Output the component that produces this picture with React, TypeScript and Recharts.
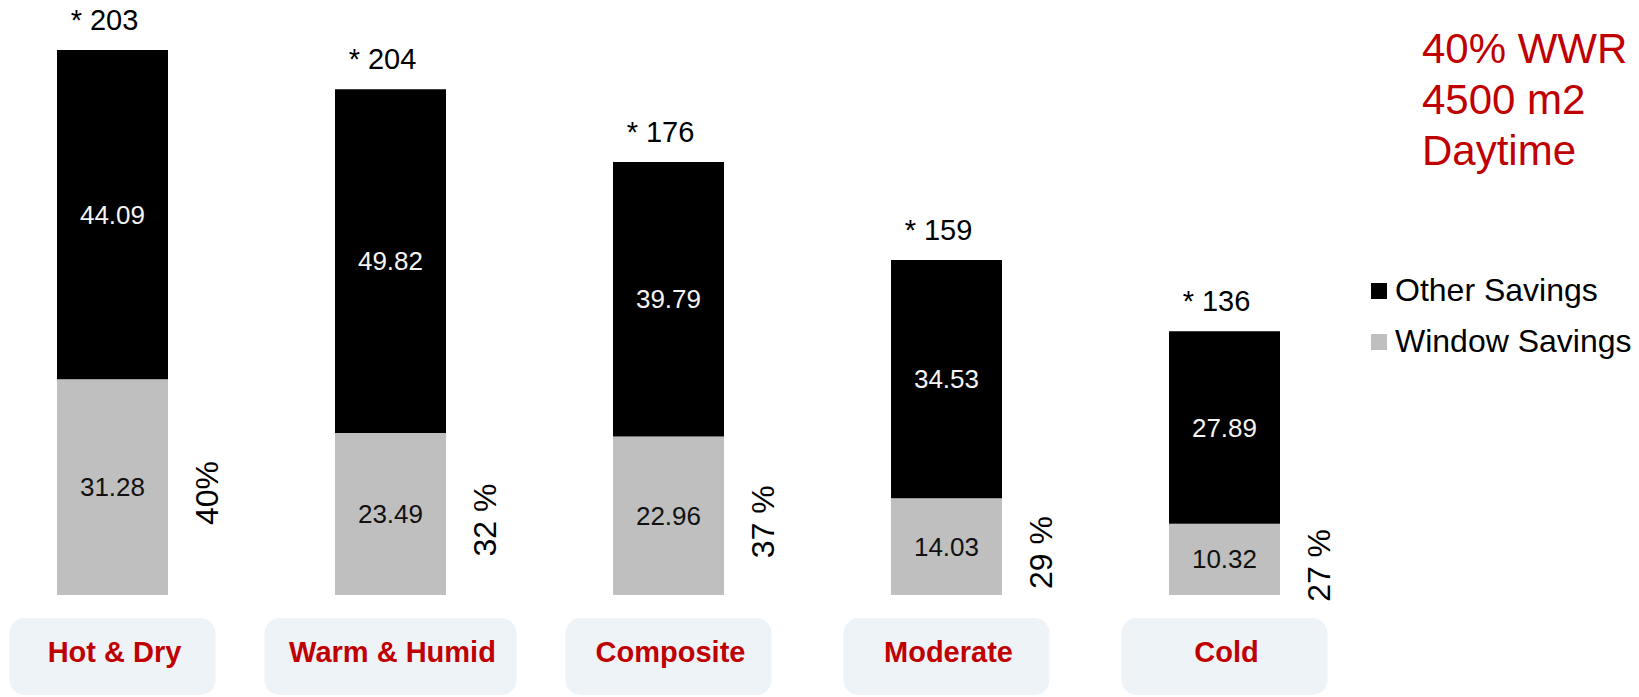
import { BarChart, Bar, XAxis, YAxis, LabelList } from 'recharts'

const zones = ['Hot & Dry', 'Warm & Humid', 'Composite', 'Moderate', 'Cold']
const windowSavings = [31.28, 23.49, 22.96, 14.03, 10.32]
// bar lengths as drawn; the Hot & Dry black segment is drawn taller than its 44.09 label
const otherSavings = [47.7, 49.82, 39.79, 34.53, 27.89]
const otherLabels = ['44.09', '49.82', '39.79', '34.53', '27.89']
const totals = [203, 204, 176, 159, 136]
const windowShare = ['40%', '32 %', '37 %', '29 %', '27 %']
const notes = ['40% WWR', '4500 m2', 'Daytime']

const data = zones.map((zone, i) => ({
  zone,
  window: windowSavings[i],
  other: otherSavings[i],
  otherLabel: otherLabels[i],
  total: '* ' + totals[i],
  share: windowShare[i],
}))

const FONT = '"Liberation Sans", Arial, Helvetica, sans-serif'
const RED = '#c00000'

function CenterText(p: any, fill: string) {
  const x = Number(p.x) + Number(p.width) / 2
  const y = Number(p.y) + Number(p.height) / 2
  return (
    <text x={x} y={y} fill={fill} fontSize={26} fontFamily={FONT} textAnchor="middle" dominantBaseline="central">
      {p.value}
    </text>
  )
}

function TotalText(p: any) {
  const x = Number(p.x) + Number(p.width) / 2 - 8
  const y = Number(p.y) - 20
  return (
    <text x={x} y={y} fill="#000" fontSize={29} fontFamily={FONT} textAnchor="middle">
      {p.value}
    </text>
  )
}

function ShareText(p: any) {
  const x = Number(p.x) + Number(p.width) / 2 + 95
  const y = Number(p.y) + Number(p.height) / 2 + 6
  return (
    <text
      x={x}
      y={y}
      fill="#000"
      fontSize={32}
      fontFamily={FONT}
      textAnchor="middle"
      dominantBaseline="central"
      transform={`rotate(-90 ${x} ${y})`}
    >
      {p.value}
    </text>
  )
}

function ZoneBox(p: any) {
  const cx = Number(p.x) + Number(p.width) / 2
  const top = Number(p.y) + Number(p.height) + 23
  const label = String(p.value)
  const w = Math.max(206, label.length * 21)
  return (
    <g>
      <rect x={cx - w / 2} y={top} width={w} height={77} rx={15} fill="#eef3f8" />
      <text
        x={cx + 2}
        y={top + 34}
        fill={RED}
        fontSize={29}
        fontWeight="bold"
        fontFamily={FONT}
        textAnchor="middle"
        dominantBaseline="central"
      >
        {label}
      </text>
    </g>
  )
}

const legendItems = [
  { name: 'Other Savings', color: '#000000' },
  { name: 'Window Savings', color: '#bfbfbf' },
]

export default function App() {
  return (
    <div style={{ position: 'absolute', left: 0, top: 0, width: 1639, height: 697, fontFamily: FONT }}>
      <BarChart
        width={1639}
        height={697}
        data={data}
        margin={{ top: 43, right: 276, bottom: 102, left: -27 }}
        barSize={111}
      >
        <XAxis dataKey="zone" hide />
        <YAxis hide domain={[0, 80]} />
        <Bar dataKey="window" stackId="s" fill="#bfbfbf" isAnimationActive={false}>
          <LabelList dataKey="window" content={(p: any) => CenterText(p, '#111')} />
          <LabelList dataKey="share" content={ShareText} />
          <LabelList dataKey="zone" content={ZoneBox} />
        </Bar>
        <Bar dataKey="other" stackId="s" fill="#000000" isAnimationActive={false}>
          <LabelList dataKey="otherLabel" content={(p: any) => CenterText(p, '#f4f4f4')} />
          <LabelList dataKey="total" content={TotalText} />
        </Bar>
      </BarChart>

      <div style={{ position: 'absolute', left: 1422, top: 23, color: RED, fontSize: 42, lineHeight: '51px' }}>
        {notes.map((n) => (
          <div key={n}>{n}</div>
        ))}
      </div>

      <div style={{ position: 'absolute', left: 1371, top: 265 }}>
        {legendItems.map((it) => (
          <div key={it.name} style={{ display: 'flex', alignItems: 'center', height: 51, fontSize: 32, color: '#000' }}>
            <span style={{ width: 16, height: 16, background: it.color, marginRight: 8, display: 'inline-block' }} />
            {it.name}
          </div>
        ))}
      </div>
    </div>
  )
}
